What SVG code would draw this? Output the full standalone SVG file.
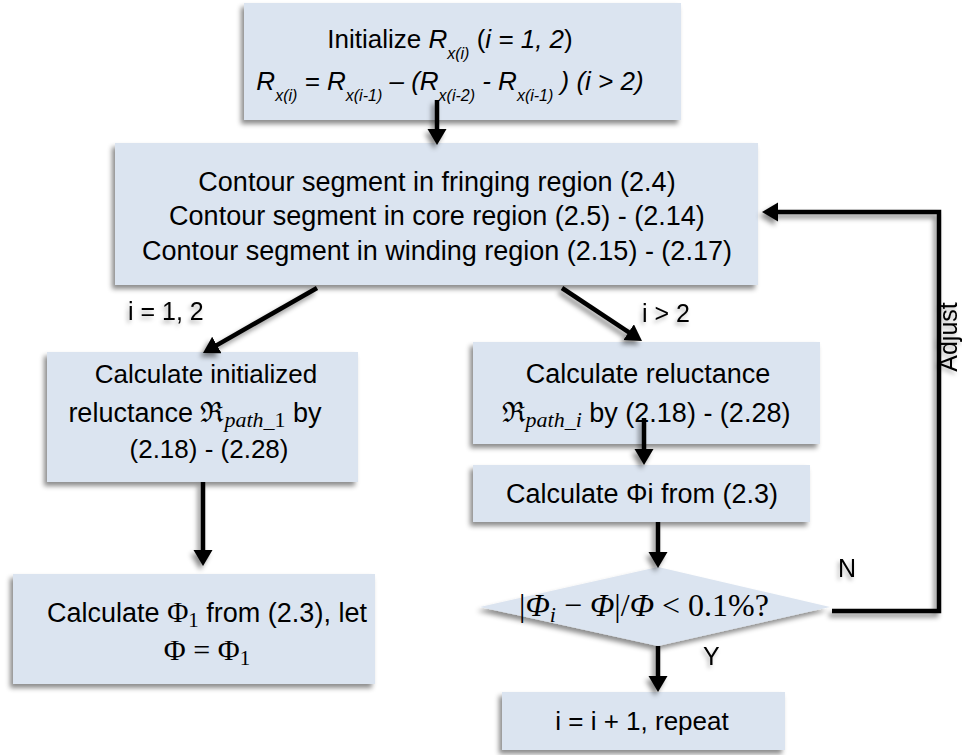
<svg xmlns="http://www.w3.org/2000/svg" width="962" height="755" viewBox="0 0 962 755">
<defs>
<filter id="sh" filterUnits="userSpaceOnUse" x="0" y="0" width="962" height="755">
<feDropShadow dx="-3" dy="4" stdDeviation="2.5" flood-color="#000" flood-opacity="0.45"/>
</filter>
<filter id="tsh" filterUnits="userSpaceOnUse" x="0" y="0" width="962" height="755">
<feDropShadow dx="-2" dy="3" stdDeviation="2" flood-color="#000" flood-opacity="0.3"/>
</filter>
<marker id="ah" markerUnits="userSpaceOnUse" markerWidth="18" markerHeight="20" viewBox="0 0 18 20" refX="4" refY="9.5" orient="auto">
<path d="M0,0 L16,9.5 L0,19 z" fill="#000"/>
</marker>
<style>
.box{fill:#dbe4f0;filter:url(#sh)}
.t{font-family:"Liberation Sans",Arial,sans-serif;font-size:27px;fill:#000;text-anchor:middle}
.s26{font-size:26px}
.lb{font-family:"Liberation Sans",Arial,sans-serif;font-size:25px;fill:#000}
.m{font-family:"Liberation Serif","DejaVu Serif",serif}
.it{font-style:italic}
.ar{stroke:#000;stroke-width:4.5;fill:none;marker-end:url(#ah);filter:url(#sh)}
</style>
</defs>

<g id="node-init">
<rect class="box" x="244" y="3" width="437" height="117"/>
<text class="t s26" x="450" y="48">Initialize <tspan class="it">R</tspan><tspan class="it" font-size="16" dy="11">x(i)</tspan><tspan dy="-11"> (</tspan><tspan class="it">i = 1, 2</tspan>)</text>
<text class="t s26 it" x="450" y="90">R<tspan font-size="16" dy="11">x(i)</tspan><tspan dy="-11"> = R</tspan><tspan font-size="16" dy="11">x(i-1)</tspan><tspan dy="-11"> – (R</tspan><tspan font-size="16" dy="11">x(i-2)</tspan><tspan dy="-11"> - R</tspan><tspan font-size="16" dy="11">x(i-1)</tspan><tspan dy="-11"> ) (i &gt; 2)</tspan></text>
</g>

<g id="node-contour">
<rect class="box" x="115" y="143" width="643" height="142"/>
<text class="t" x="437" y="191">Contour segment in fringing region (2.4)</text>
<text class="t" x="437" y="225">Contour segment in core region (2.5) - (2.14)</text>
<text class="t" x="437" y="260">Contour segment in winding region (2.15) - (2.17)</text>
</g>

<g id="node-init-reluctance">
<rect class="box" x="47" y="352" width="311" height="130"/>
<text class="t s26" x="206" y="383">Calculate initialized</text>
<text class="t" x="195" y="422">reluctance <tspan class="m" font-size="28">ℜ</tspan><tspan class="m it" font-size="22" dy="5">path</tspan><tspan class="m" font-size="22">_1</tspan><tspan dy="-5"> by</tspan></text>
<text class="t s26" x="209" y="458">(2.18) - (2.28)</text>
</g>

<g id="node-phi1">
<rect class="box" x="13" y="574" width="362" height="110"/>
<text class="t" x="207" y="622">Calculate <tspan class="m" font-size="29">Φ</tspan><tspan class="m" font-size="21" dy="5">1</tspan><tspan dy="-5"> from (2.3), let</tspan></text>
<text class="t m" x="207" y="660" style="font-size:30px">Φ = Φ<tspan font-size="21" dy="5">1</tspan></text>
</g>

<g id="node-reluctance">
<rect class="box" x="473" y="342" width="347" height="102"/>
<text class="t" x="648" y="383">Calculate reluctance</text>
<text class="t" x="646" y="422"><tspan class="m" font-size="28">ℜ</tspan><tspan class="m it" font-size="22" dy="5">path</tspan><tspan class="m" font-size="22">_</tspan><tspan class="m it" font-size="22">i</tspan><tspan dy="-5"> by (2.18) - (2.28)</tspan></text>
</g>

<g id="node-phii">
<rect class="box" x="473" y="465" width="337" height="57"/>
<text class="t" x="642" y="503">Calculate Φi from (2.3)</text>
</g>

<g id="node-check">
<polygon class="box" points="658,567 830,607 658,646 480,607"/>
<text class="t m" x="644" y="616" style="font-size:32px">|<tspan class="it">Φ</tspan><tspan class="it" font-size="22" dy="6">i</tspan><tspan dy="-6"> − </tspan><tspan class="it">Φ</tspan>|/<tspan class="it">Φ</tspan> &lt; 0.1%?</text>
</g>

<g id="node-repeat">
<rect class="box" x="502" y="692" width="283" height="58"/>
<text class="t s26" x="642" y="730">i = i + 1, repeat</text>
</g>

<g id="connectors">
<line class="ar" x1="437" y1="100" x2="437" y2="133"/>
<line class="ar" x1="317" y1="288" x2="213.4" y2="347.1"/>
<line class="ar" x1="562" y1="288" x2="632" y2="334.4"/>
<line class="ar" x1="203" y1="482" x2="203" y2="554"/>
<line class="ar" x1="644" y1="418" x2="644" y2="453"/>
<line class="ar" x1="658" y1="522" x2="658" y2="556"/>
<line class="ar" x1="658" y1="646" x2="658" y2="680"/>
<path class="ar" d="M832,611 H939 V212 H774"/>
</g>

<g id="labels" filter="url(#tsh)">
<text class="lb" x="128" y="320">i = 1, 2</text>
<text class="lb" x="642" y="322">i &gt; 2</text>
<text class="lb" x="838" y="577">N</text>
<text class="lb" x="703" y="665">Y</text>
<text class="lb" transform="translate(957,337) rotate(-90)" text-anchor="middle">Adjust</text>
</g>
</svg>
